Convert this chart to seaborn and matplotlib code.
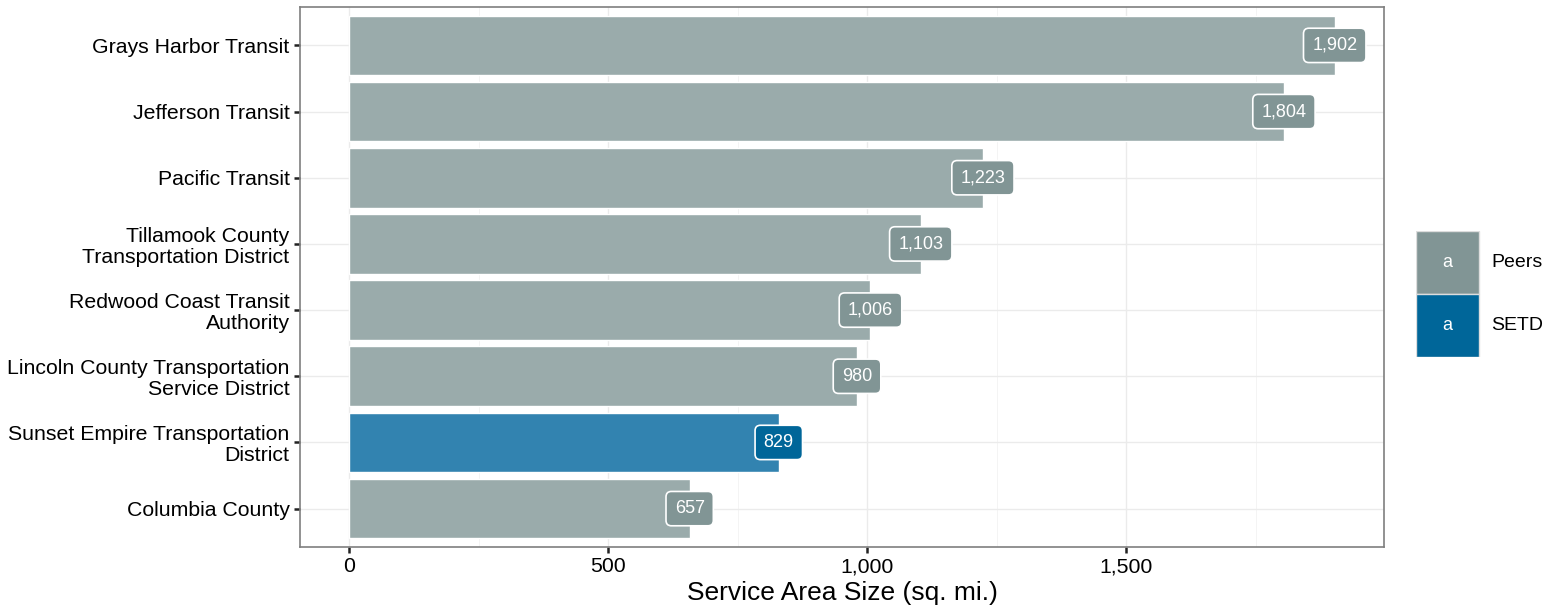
import pandas as pd
import seaborn as sns
import matplotlib.pyplot as plt
from matplotlib.patches import Rectangle
from matplotlib.ticker import FuncFormatter, MultipleLocator

agencies = ["Grays Harbor Transit", "Jefferson Transit", "Pacific Transit",
            "Tillamook County\nTransportation District",
            "Redwood Coast Transit\nAuthority",
            "Lincoln County Transportation\nService District",
            "Sunset Empire Transportation\nDistrict",
            "Columbia County"]
area = [1902, 1804, 1223, 1103, 1006, 980, 829, 657]
group = ["Peers", "Peers", "Peers", "Peers", "Peers", "Peers", "SETD", "Peers"]

bar_colors = {"Peers": "#9aabab", "SETD": "#3283b0"}
key_colors = {"Peers": "#819595", "SETD": "#006699"}

df = pd.DataFrame({"agency": agencies, "area": area, "group": group})

sns.set_theme(style="white")
plt.rcParams["font.family"] = ["Liberation Sans", "DejaVu Sans"]

fig = plt.figure(figsize=(15.55, 6.14), dpi=100)
ax = fig.add_axes([300 / 1555, 1 - 547 / 614, 1084 / 1555, 540 / 614])

sns.barplot(data=df, y="agency", x="area", hue="group", palette=bar_colors,
            dodge=False, width=0.9, legend=False, ax=ax, saturation=1, zorder=2)

for i, row in df.iterrows():
    ax.text(row["area"], i, f"{row['area']:,}", ha="center", va="center",
            color="white", fontsize=13, zorder=4,
            bbox=dict(boxstyle="round,pad=0.48,rounding_size=0.3",
                      fc=key_colors[row["group"]], ec="white", lw=1.2))

ax.set_xlim(-95.1, 1997.1)
ax.set_ylim(len(agencies) - 0.42, -0.58)
ax.xaxis.set_major_locator(MultipleLocator(500))
ax.xaxis.set_minor_locator(MultipleLocator(250))
ax.xaxis.set_major_formatter(FuncFormatter(lambda v, p: f"{int(v):,}"))
ax.grid(True, which="major", color="#ebebeb", lw=1.0, zorder=0)
ax.grid(True, which="minor", axis="x", color="#f2f2f2", lw=0.6, zorder=0)
ax.set_axisbelow(True)
for s in ax.spines.values():
    s.set_color("#7f7f7f")
    s.set_linewidth(1.2)
ax.tick_params(axis="both", which="major", length=4.5, width=1.8, color="#222222",
               labelsize=15.3, labelcolor="black", bottom=True, left=True, pad=3)
ax.tick_params(axis="x", which="minor", length=0)
ax.set_yticks(range(len(agencies)))
ax.set_yticklabels(agencies, ha="right", linespacing=1.12)
ax.set_ylabel("")
ax.set_xlabel("Service Area Size (sq. mi.)", fontsize=19, labelpad=3, color="black")

# legend drawn as a small axes of keys
lax = fig.add_axes([1416 / 1555, 1 - 357 / 614, 150 / 1555, 126 / 614])
lax.set_xlim(0, 150)
lax.set_ylim(126, 0)
lax.axis("off")
for k, g in enumerate(["Peers", "SETD"]):
    lax.add_patch(Rectangle((0, k * 63), 63, 63, fc=key_colors[g], ec="#dddddd", lw=1))
    lax.text(31.5, k * 63 + 31.5, "a", color="white", ha="center", va="center", fontsize=13)
    lax.text(75, k * 63 + 31.5, g, color="black", ha="left", va="center", fontsize=14)

fig.savefig("out.png", dpi=100)
